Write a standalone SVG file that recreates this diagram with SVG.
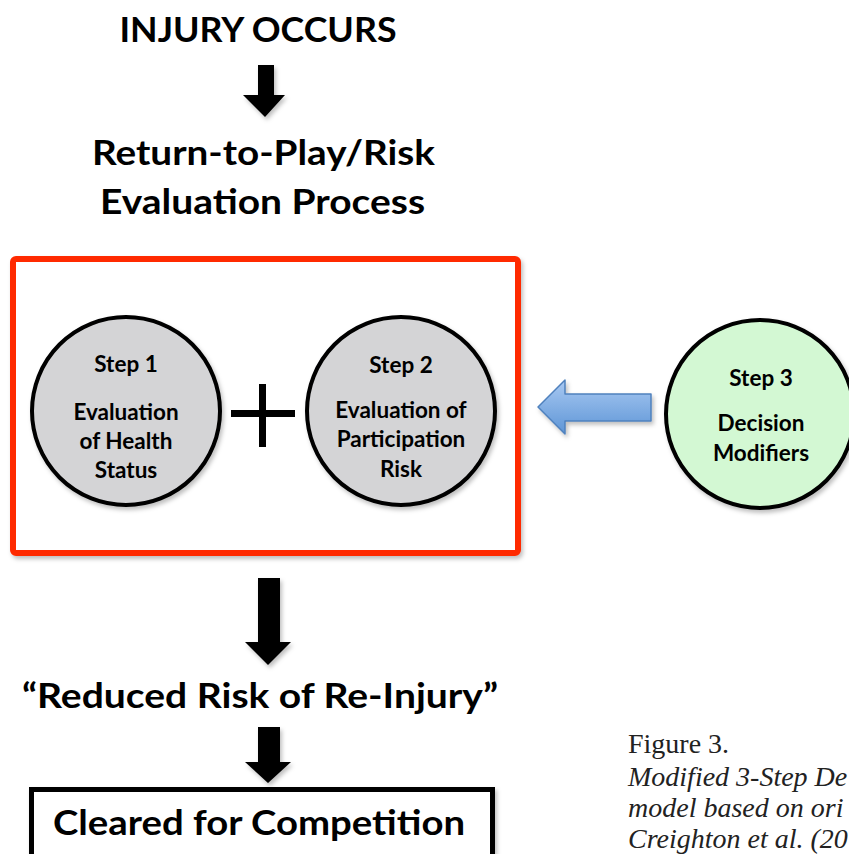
<svg xmlns="http://www.w3.org/2000/svg" width="849" height="854" viewBox="0 0 849 854">
<style>
.h{font-family:Lato,"Open Sans","Liberation Sans",sans-serif;font-weight:700;fill:#000;text-anchor:middle}
.c{font-family:Lato,"Open Sans","Liberation Sans",sans-serif;font-weight:700;font-size:22.5px;fill:#000;text-anchor:middle}
.cap{font-family:"Liberation Serif","Times New Roman",serif;font-size:28px;fill:#222}
.circ{stroke:#000;stroke-width:4}
.blk{fill:#000}
</style>
<defs>
<filter id="sh" x="-10%" y="-10%" width="125%" height="125%">
<feDropShadow dx="2" dy="3" stdDeviation="2" flood-color="#000" flood-opacity="0.25"/>
</filter>
<linearGradient id="bl" x1="0" y1="0" x2="0" y2="1">
<stop offset="0" stop-color="#a9c9f2"/>
<stop offset="1" stop-color="#5d95d6"/>
</linearGradient>
</defs>
<rect width="849" height="854" fill="#fff"/>

<g id="injury">
<text class="h" x="258" y="42" font-size="35" textLength="277" lengthAdjust="spacingAndGlyphs">INJURY OCCURS</text>
</g>

<g id="process-title">
<text class="h" x="263.5" y="165" font-size="34" textLength="343" lengthAdjust="spacingAndGlyphs">Return-to-Play/Risk</text>
<text class="h" x="262.5" y="214" font-size="34" textLength="325" lengthAdjust="spacingAndGlyphs">Evaluation Process</text>
</g>

<g id="evaluation-box">
<rect x="13" y="259" width="505" height="294" rx="3" fill="#fff" stroke="#ff2a00" stroke-width="6" filter="url(#sh)"/>
</g>

<g id="step1">
<circle class="circ" cx="126" cy="411" r="94" fill="#d4d4d6" filter="url(#sh)"/>
<text class="c" x="126" y="372">Step 1</text>
<text class="c" x="126" y="420">Evaluation</text>
<text class="c" x="126" y="449">of Health</text>
<text class="c" x="126" y="478">Status</text>
</g>

<g id="plus">
<rect class="blk" x="231" y="410" width="64" height="7"/>
<rect class="blk" x="259" y="384" width="7" height="63"/>
</g>

<g id="step2">
<circle class="circ" cx="401" cy="411" r="94" fill="#d4d4d6" filter="url(#sh)"/>
<text class="c" x="401" y="373">Step 2</text>
<text class="c" x="401" y="418">Evaluation of</text>
<text class="c" x="401" y="447">Participation</text>
<text class="c" x="401" y="477">Risk</text>
</g>

<g id="step3">
<circle class="circ" cx="760" cy="414" r="94" fill="#d3f8d3" filter="url(#sh)"/>
<text class="c" x="761" y="386">Step 3</text>
<text class="c" x="761" y="431">Decision</text>
<text class="c" x="761" y="461">Modifiers</text>
</g>

<g id="reduced-risk">
<text class="h" x="260" y="708" font-size="34" textLength="476" lengthAdjust="spacingAndGlyphs">“Reduced Risk of Re-Injury”</text>
</g>

<g id="cleared">
<rect x="31.5" y="789.5" width="461" height="80" fill="#fff" stroke="#000" stroke-width="5" filter="url(#sh)"/>
<text class="h" x="259" y="835" font-size="34" textLength="412" lengthAdjust="spacingAndGlyphs">Cleared for Competition</text>
</g>

<g id="caption">
<text class="cap" x="628" y="753">Figure 3.</text>
<text class="cap" x="628" y="786" font-style="italic">Modified 3-Step De</text>
<text class="cap" x="628" y="817" font-style="italic">model based on ori</text>
<text class="cap" x="628" y="848" font-style="italic">Creighton et al. (20</text>
</g>

<g id="connectors">
<path class="blk" d="M258,65 H274 V95 H285 L265,117 L243,95 H258 Z" filter="url(#sh)"/>
<path class="blk" d="M258,578 H280 V642 H291 L268,665 L245,642 H258 Z" filter="url(#sh)"/>
<path class="blk" d="M258,727 H280 V762 H291 L268,783 L245,762 H258 Z" filter="url(#sh)"/>
<path d="M651,394 V421 H565 V434 L538,407 L565,380 V394 Z" fill="url(#bl)" stroke="#4f81bd" stroke-width="1.5" stroke-linejoin="round" filter="url(#sh)"/>
</g>
</svg>
